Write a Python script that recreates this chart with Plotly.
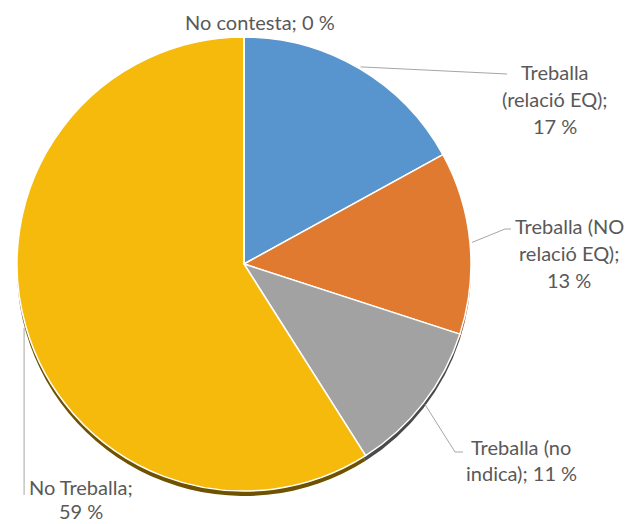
import math
import plotly.graph_objects as go

# ---- data ----
categories = ["Treballa (relació EQ)", "Treballa (NO relació EQ)",
              "Treballa (no indica)", "No Treballa", "No contesta"]
values = [17, 13, 11, 59, 0]
label_lines = [
    ["Treballa", "(relació EQ);", "17 %"],
    ["Treballa (NO", "relació EQ);", "13 %"],
    ["Treballa (no", "indica); 11 %"],
    ["No Treballa;", "59 %"],
    ["No contesta; 0 %"],
]

# ---- styling / layout ----
colors = ["#5895CE", "#E07A30", "#A2A2A2", "#F5BA0C", "#4472C4"]
shadow_colors = ["#2F5A85", "#8A4513", "#4A4A4A", "#6E5200", "#2F4F8A"]
W, H = 629, 524
CX, CY, R = 244, 264, 227          # pie centre / radius in pixels
SHADOW = 5
FONT = dict(family="Lato, Calibri, sans-serif", size=20, color="#595959")

def px(x):
    return x / W

def py(y):
    return 1 - y / H

fig = go.Figure()
fig.add_trace(go.Pie(
    labels=categories, values=values, sort=False, direction="clockwise",
    rotation=0, textinfo="none", hoverinfo="skip", showlegend=False,
    marker=dict(colors=shadow_colors, line=dict(width=0)),
    domain=dict(x=[px(CX - R), px(CX + R)], y=[py(CY + SHADOW + R), py(CY + SHADOW - R)]),
))
fig.add_trace(go.Pie(
    labels=categories, values=values, sort=False, direction="clockwise",
    rotation=0, textinfo="none", hoverinfo="skip", showlegend=False,
    marker=dict(colors=colors, line=dict(color="white", width=1.5)),
    domain=dict(x=[px(CX - R), px(CX + R)], y=[py(CY + R), py(CY - R)]),
))

# label layout (centre x, line y positions) and leader-line elbows in pixels
label_pos = [
    (555, [72, 99, 126]),
    (569, [226, 253, 280]),
    (521, [447, 473]),
    (81, [487, 511]),
    (260, [22]),
]
leader_pts = [
    [(507, 74)],
    [(505, 229), (511, 229)],
    [(455, 452), (463, 452)],
    [None],   # vertical drop
    [],
]

total = sum(values)
cum = 0
shapes = []
annotations = []
for i, v in enumerate(values):
    mid = (cum + v / 2) / total * 2 * math.pi
    cum += v
    ax = CX + (R + 2) * math.sin(mid)
    ay = CY - (R + 2) * math.cos(mid)
    pts = leader_pts[i]
    if i == 3:
        pts = [(ax, 495)]
    if pts:
        seq = [(ax, ay)] + pts
        for (x0, y0), (x1, y1) in zip(seq[:-1], seq[1:]):
            shapes.append(dict(type="line", xref="paper", yref="paper",
                               x0=px(x0), y0=py(y0), x1=px(x1), y1=py(y1),
                               line=dict(color="#A6A6A6", width=1)))
    cx, ys = label_pos[i]
    for line, ly in zip(label_lines[i], ys):
        annotations.append(dict(text=line, x=px(cx), y=py(ly), xref="paper", yref="paper",
                                xanchor="center", yanchor="middle", showarrow=False,
                                font=FONT))

fig.update_layout(
    width=W, height=H, margin=dict(l=0, r=0, t=0, b=0),
    paper_bgcolor="white", plot_bgcolor="white",
    shapes=shapes, annotations=annotations,
)
fig.write_html("out.html", config={"displayModeBar": False},
               post_script="document.body.style.margin='0px';document.body.style.overflow='hidden';")
